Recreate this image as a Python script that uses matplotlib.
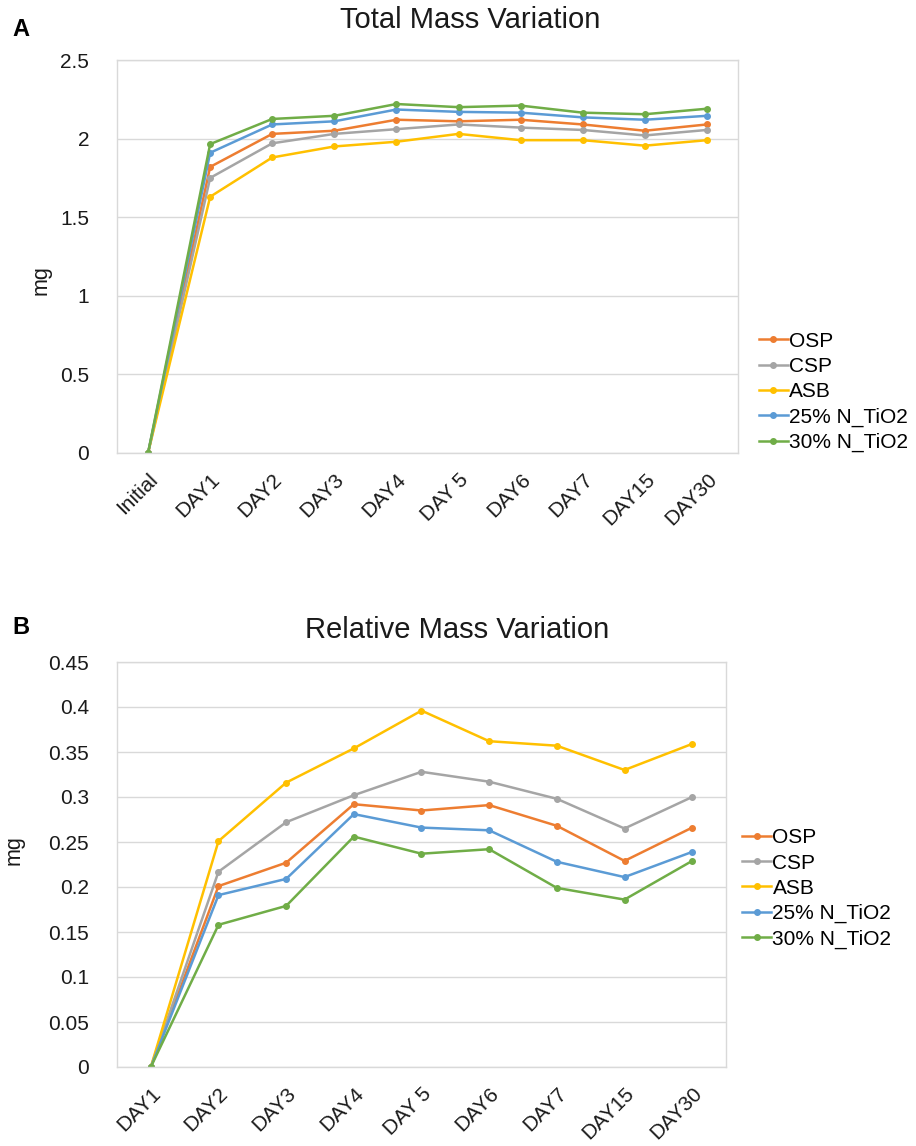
import numpy as np
import matplotlib
matplotlib.use("Agg")
import matplotlib.pyplot as plt
from matplotlib.ticker import FuncFormatter, MultipleLocator

plt.rcParams['font.family'] = ['Liberation Sans', 'DejaVu Sans']

# panel A: total mass
days_a = ["Initial", "DAY1", "DAY2", "DAY3", "DAY4", "DAY 5", "DAY6", "DAY7", "DAY15", "DAY30"]
osp_a = [0, 1.82, 2.03, 2.05, 2.12, 2.11, 2.12, 2.09, 2.05, 2.09]
csp_a = [0, 1.75, 1.97, 2.03, 2.06, 2.09, 2.07, 2.055, 2.02, 2.055]
asb_a = [0, 1.63, 1.88, 1.95, 1.98, 2.03, 1.99, 1.99, 1.955, 1.99]
n25_a = [0, 1.91, 2.09, 2.11, 2.185, 2.17, 2.165, 2.135, 2.12, 2.145]
n30_a = [0, 1.965, 2.125, 2.145, 2.22, 2.20, 2.21, 2.165, 2.155, 2.19]

# panel B: relative mass
days_b = ["DAY1", "DAY2", "DAY3", "DAY4", "DAY 5", "DAY6", "DAY7", "DAY15", "DAY30"]
osp_b = [0, 0.201, 0.227, 0.292, 0.285, 0.291, 0.268, 0.229, 0.266]
csp_b = [0, 0.217, 0.272, 0.302, 0.328, 0.317, 0.298, 0.265, 0.300]
asb_b = [0, 0.251, 0.316, 0.354, 0.396, 0.362, 0.357, 0.330, 0.359]
n25_b = [0, 0.191, 0.209, 0.281, 0.266, 0.263, 0.228, 0.211, 0.239]
n30_b = [0, 0.158, 0.179, 0.256, 0.237, 0.242, 0.199, 0.186, 0.229]

names = ["OSP", "CSP", "ASB", "25% N_TiO2", "30% N_TiO2"]
colors = ["#ED7D31", "#A5A5A5", "#FFC000", "#5B9BD5", "#70AD47"]

fig = plt.figure(figsize=(9.16, 11.46), dpi=100)
W, H = 916, 1146


def make_axes(l, t, r, b):
    return fig.add_axes([l / W, 1 - b / H, (r - l) / W, (b - t) / H])


def style(ax, cats, series, ymax, ystep, legend_xy):
    x = np.arange(len(cats))
    for vals, name, c in zip(series, names, colors):
        ax.plot(x, vals, color=c, lw=1.8, marker="o", ms=4, label=name)
    ax.set_xlim(-0.5, len(cats) - 0.5)
    ax.set_ylim(0, ymax)
    ax.yaxis.set_major_locator(MultipleLocator(ystep))
    ax.yaxis.set_major_formatter(FuncFormatter(lambda v, p: "%g" % round(v, 4)))
    ax.grid(axis="y", color="#D9D9D9", lw=1)
    ax.set_axisbelow(True)
    for s in ax.spines.values():
        s.set_color("#D9D9D9")
        s.set_linewidth(1)
    ax.set_xticks(x)
    ax.set_xticklabels(cats, rotation=45, ha="right", rotation_mode="anchor")
    ax.tick_params(length=0, labelsize=15, colors="#1a1a1a")
    ax.tick_params(axis="y", pad=20)
    ax.tick_params(axis="x", pad=12)
    ax.set_ylabel("mg", fontsize=15.5, color="#1a1a1a")
    ax.legend(loc="upper left", bbox_to_anchor=legend_xy, frameon=False,
              fontsize=15, handlelength=1.4, handletextpad=0.05,
              labelspacing=0.3, borderaxespad=0)


ax1 = make_axes(117, 60, 738, 453)
style(ax1, days_a, [osp_a, csp_a, asb_a, n25_a, n30_a], 2.5, 0.5, (1.02, 0.33))
ax1.yaxis.set_label_coords(-0.105, 0.44)

ax2 = make_axes(117, 662, 726, 1067)
style(ax2, days_b, [osp_b, csp_b, asb_b, n25_b, n30_b], 0.45, 0.05, (1.013, 0.61))
ax2.yaxis.set_label_coords(-0.151, 0.536)

fig.text(470 / W, 1 - 20 / H, "Total Mass Variation", fontsize=21,
         ha="center", va="center", color="#1a1a1a")
fig.text(457 / W, 1 - 630 / H, "Relative Mass Variation", fontsize=21,
         ha="center", va="center", color="#1a1a1a")
fig.text(12 / W, 1 - 30 / H, "A", fontsize=17, fontweight="bold", va="center")
fig.text(12 / W, 1 - 628 / H, "B", fontsize=17, fontweight="bold", va="center")

fig.savefig("out.png", dpi=100, facecolor="white")
